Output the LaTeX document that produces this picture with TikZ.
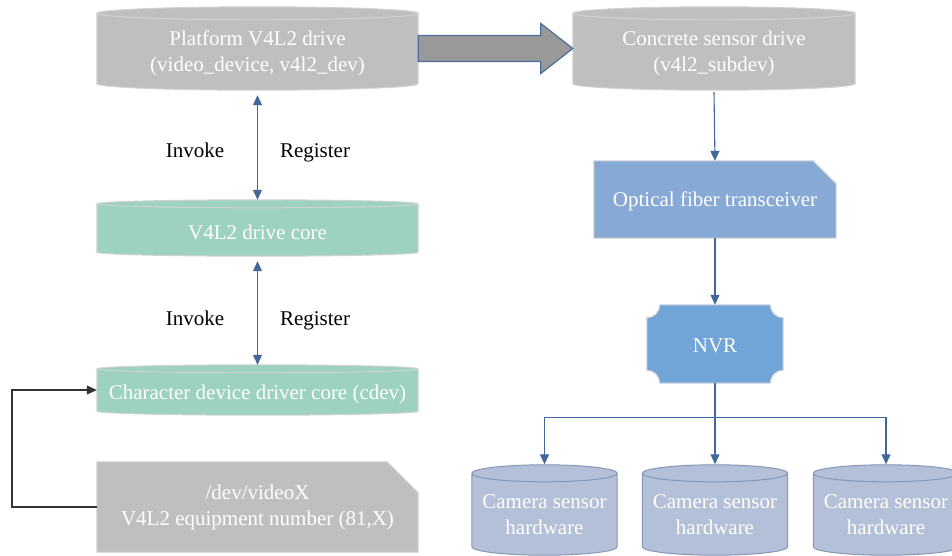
\documentclass[tikz,border=0pt]{standalone}
\usepackage{fontspec}
\setmainfont{Liberation Serif}
\usetikzlibrary{calc,arrows.meta,backgrounds}

\definecolor{greyfill}{HTML}{BFBFBF}
\definecolor{greyedge}{HTML}{D2D2D2}
\definecolor{mintfill}{HTML}{9DD2C0}
\definecolor{optfill}{HTML}{87A9D6}
\definecolor{nvrfill}{HTML}{71A4D7}
\definecolor{camfill}{HTML}{B3C0D8}
\definecolor{camedge}{HTML}{8497B5}
\definecolor{linkblue}{HTML}{41689A}
\definecolor{bigfill}{HTML}{999999}
\definecolor{bigedge}{HTML}{4A6F9D}
\definecolor{loopline}{HTML}{333333}

% cylinder outline around a rectangular node: #1 node, #2 half height of the caps, #3 style
\newcommand\cylpath[3]{%
  \path[#3] let \p1=($(#1.east)-(#1.west)$) in
    (#1.north west) -- (#1.south west)
    arc[start angle=180,end angle=360,x radius=0.5*\x1,y radius=#2pt]
    -- (#1.north east)
    arc[start angle=0,end angle=180,x radius=0.5*\x1,y radius=#2pt] -- cycle
    (#1.north west)
    arc[start angle=180,end angle=360,x radius=0.5*\x1,y radius=#2pt];
}
% rectangle with the top right corner cut off: #1 node, #2 cut size, #3 style
\newcommand\snippath[3]{%
  \path[#3] (#1.north west) -- ($(#1.north east)+(-#2,0)$)
    -- ($(#1.north east)+(0,#2)$) -- (#1.south east)
    -- (#1.south west) -- cycle;
}
% rectangle with concave corners: #1 node, #2 corner radius, #3 style
\newcommand\plaquepath[3]{%
  \path[#3] ($(#1.north west)+(#2,0)$) -- ($(#1.north east)+(-#2,0)$)
    arc[start angle=180,end angle=270,radius=#2pt]
    -- ($(#1.south east)+(0,-#2)$)
    arc[start angle=90,end angle=180,radius=#2pt]
    -- ($(#1.south west)+(#2,0)$)
    arc[start angle=0,end angle=90,radius=#2pt]
    -- ($(#1.north west)+(0,#2)$)
    arc[start angle=270,end angle=360,radius=#2pt] -- cycle;
}

\tikzset{
  holder/.style={rectangle,inner sep=0pt},
  caption/.style={inner sep=0pt,text=white,align=center,
    font=\fontsize{21}{26}\selectfont},
  lbl/.style={inner sep=0pt,anchor=base,text=black,font=\fontsize{21}{26}\selectfont},
  conn/.style={draw=linkblue,line width=1.1pt},
  tip/.style={-{Triangle[length=10pt,width=9pt]}},
  dtip/.style={{Triangle[length=10pt,width=9pt]}-{Triangle[length=10pt,width=9pt]}},
  greyshape/.style={fill=greyfill,draw=greyedge,line width=1pt},
  mintshape/.style={fill=mintfill,draw=greyedge,line width=1pt},
  optshape/.style={fill=optfill,draw=greyedge,line width=1pt},
  nvrshape/.style={fill=nvrfill,draw=greyedge,line width=1pt},
  camshape/.style={fill=camfill,draw=camedge,line width=1pt},
}

\begin{document}
\begin{tikzpicture}[x=1pt,y=-1pt]
  \useasboundingbox (0,0) rectangle (952,555);
  \clip (0,0) rectangle (952,555);

  % left column
  \node[holder,minimum width=321pt,minimum height=70pt] (plat) at (257.5,48.5) {};
  \node[holder,minimum width=321pt,minimum height=48pt] (core) at (257.5,228) {};
  \node[holder,minimum width=321pt,minimum height=42pt] (chr) at (257.5,390) {};
  \node[holder,minimum width=321pt,minimum height=90pt] (dev) at (257.5,507) {};

  % right column
  \node[holder,minimum width=282pt,minimum height=70pt] (conc) at (714,48.5) {};
  \node[holder,minimum width=242pt,minimum height=77pt] (opt) at (715,199.5) {};
  \node[holder,minimum width=136pt,minimum height=78pt] (nvr) at (715,344) {};
  \node[holder,minimum width=145pt,minimum height=73pt] (cam1) at (544.5,510) {};
  \node[holder,minimum width=145pt,minimum height=73pt] (cam2) at (715,510) {};
  \node[holder,minimum width=145pt,minimum height=73pt] (cam3) at (886,510) {};

  \begin{pgfonlayer}{background}
    \cylpath{plat}{6.5}{greyshape}
    \cylpath{conc}{6.5}{greyshape}
    \cylpath{core}{4}{mintshape}
    \cylpath{chr}{4}{mintshape}
    \snippath{dev}{31}{greyshape}
    \snippath{opt}{23}{optshape}
    \plaquepath{nvr}{13}{nvrshape}
    \cylpath{cam1}{8.5}{camshape}
    \cylpath{cam2}{8.5}{camshape}
    \cylpath{cam3}{8.5}{camshape}
  \end{pgfonlayer}

  % texts inside the shapes
  \node[caption] (platT) at ($(plat.center)+(0,4.5)$)
    {Platform V4L2 drive\\(video\_device, v4l2\_dev)};
  \node[caption] (coreT) at ($(core.center)+(0,4)$) {V4L2 drive core};
  \node[caption] (chrT) at ($(chr.center)+(0,4.5)$)
    {Character device driver core (cdev)};
  \node[caption] (devT) at (dev.center)
    {/dev/videoX\\V4L2 equipment number (81,X)};
  \node[caption] (concT) at ($(conc.center)+(0,4.5)$)
    {Concrete sensor drive\\(v4l2\_subdev)};
  \node[caption] (optT) at ($(opt.center)+(0,2)$) {Optical fiber transceiver};
  \node[caption] (nvrT) at ($(nvr.center)+(0,2)$) {NVR};
  \node[caption] (cam1T) at ($(cam1.center)+(0,4.5)$) {Camera sensor\\hardware};
  \node[caption] (cam2T) at ($(cam2.center)+(0,4.5)$) {Camera sensor\\hardware};
  \node[caption] (cam3T) at ($(cam3.center)+(0,4.5)$) {Camera sensor\\hardware};

  % labels beside the double arrows
  \node[lbl] (inv1) at (195,157) {Invoke};
  \node[lbl] (reg1) at (315,157) {Register};
  \node[lbl] (inv2) at (195,325) {Invoke};
  \node[lbl] (reg2) at (315,325) {Register};

  % wide arrow between the two drivers
  \draw[fill=bigfill,draw=bigedge,line width=1.2pt]
    ($(plat.east)+(0,-13)$) -- ($(conc.west)+(-32,-13)$)
    -- ($(conc.west)+(-32,-25)$) -- (conc.west)
    -- ($(conc.west)+(-32,25)$) -- ($(conc.west)+(-32,13)$)
    -- ($(plat.east)+(0,13)$) -- cycle;

  % invoke / register links
  \draw[conn,dtip] ($(plat.south)+(0,11.5)$) -- ($(core.north)+(0,-4)$);
  \draw[conn,dtip] ($(core.south)+(0,9)$) -- ($(chr.north)+(0,-4)$);

  % device file back to cdev
  \coordinate (lp) at (12,0);
  \draw[draw=loopline,line width=1.1pt,tip]
    (dev.west) -- (dev.west -| lp) |- (chr.west);

  % right column chain
  \draw[conn,tip] ($(conc.south)+(0,8.5)$) -- (opt.north);
  \draw[conn,tip] (opt.south) -- (nvr.north);
  \coordinate (br) at ($(nvr.south)+(0,34)$);
  \draw[conn] (nvr.south) -- (br);
  \draw[conn,tip] (br) -| ($(cam1.north)+(0,-9)$);
  \draw[conn,tip] (br) -- ($(cam2.north)+(0,-9)$);
  \draw[conn,tip] (br) -| ($(cam3.north)+(0,-9)$);
\end{tikzpicture}
\end{document}
